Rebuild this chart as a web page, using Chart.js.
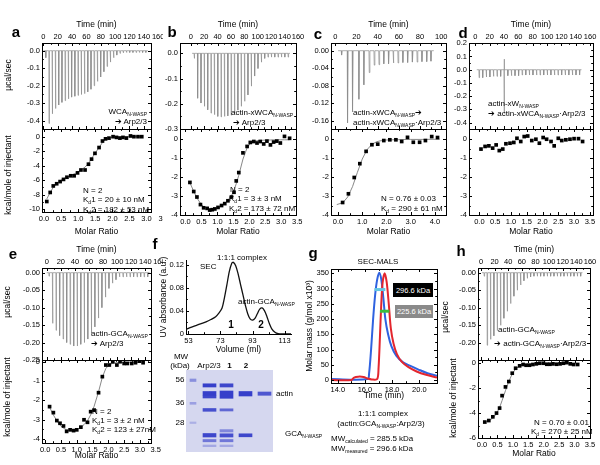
<!DOCTYPE html>
<html>
<head>
<meta charset="utf-8">
<title>ITC / SEC panels</title>
<script src="https://cdn.jsdelivr.net/npm/chart.js@4.4.1/dist/chart.umd.min.js"></script>
<style>
  html, body { margin: 0; padding: 0; background: #fff; }
  #fig { position: relative; width: 600px; height: 465px; overflow: hidden;
         font-family: "Liberation Sans", Arial, sans-serif; color: #000; }
  #fig canvas { position: absolute; }
  .t { position: absolute; white-space: nowrap; line-height: 1; }
  .t sub { font-size: 5px; vertical-align: -2px; line-height: 0; }
  .tag { position: absolute; color: #fff; font-size: 7.5px; display: flex; white-space: nowrap;
         align-items: center; justify-content: center; }
</style>
</head>
<body>
<div id="fig"></div>
<script>
// ---------- a: WCA(N-WASP) -> Arp2/3 ----------
const aInjTime = [3, 7.5, 12, 16.5, 21, 25.5, 30, 34.5, 39, 43.5, 48, 52.5, 57, 61.5, 66, 70.5, 75, 79.5, 84, 88.5, 93, 97.5, 102, 106.5, 111, 115.5, 120, 124.5, 129, 133.5, 138, 142.5];
const aInjPeak = [-0.04, -0.415, -0.36, -0.33, -0.31, -0.295, -0.285, -0.275, -0.265, -0.26, -0.255, -0.25, -0.245, -0.235, -0.22, -0.2, -0.175, -0.15, -0.12, -0.09, -0.065, -0.04, -0.025, -0.015, -0.012, -0.01, -0.01, -0.01, -0.01, -0.01, -0.01, -0.01];
const aRatio = [0.08, 0.18, 0.27, 0.37, 0.47, 0.57, 0.67, 0.78, 0.88, 0.98, 1.08, 1.2, 1.3, 1.39, 1.49, 1.61, 1.71, 1.8, 1.9, 2.02, 2.12, 2.22, 2.31, 2.41, 2.53, 2.63, 2.75, 2.86];
const aHeat = [-8.95, -7.7, -6.8, -6.5, -6.2, -5.9, -5.6, -5.4, -5.4, -5.0, -4.6, -4.6, -3.8, -3.1, -2.3, -1.5, -0.6, -0.3, -0.2, 0.0, -0.1, -0.2, -0.1, -0.2, 0.1, 0.0, 0.0, 0.0];
const aFit = [-8.6, -7.7, -7.0, -6.5, -6.1, -5.8, -5.6, -5.35, -5.15, -4.9, -4.6, -4.2, -3.7, -3.05, -2.3, -1.5, -0.8, -0.35, -0.15, -0.07, -0.04, -0.02, -0.01, 0, 0, 0, 0, 0];

// ---------- b: actin-xWCA -> Arp2/3 ----------
const bInjTime = [5, 10, 15, 20, 25, 30, 35, 40, 45, 50, 55, 60, 65, 70, 75, 80, 85, 90, 95, 100, 105, 110, 115, 120, 125, 130, 135, 140, 145];
const bInjPeak = [-0.02, -0.178, -0.197, -0.21, -0.224, -0.237, -0.243, -0.25, -0.252, -0.25, -0.248, -0.245, -0.237, -0.225, -0.21, -0.19, -0.165, -0.13, -0.09, -0.06, -0.035, -0.02, -0.015, -0.015, -0.015, -0.015, -0.015, -0.015, -0.015];
const bRatio = [0.14, 0.26, 0.36, 0.47, 0.57, 0.68, 0.76, 0.84, 0.92, 1.02, 1.13, 1.23, 1.33, 1.44, 1.52, 1.59, 1.67, 1.8, 1.93, 2.03, 2.14, 2.24, 2.34, 2.45, 2.55, 2.66, 2.76, 2.86, 2.97, 3.1, 3.26];
const bHeat = [-2.28, -2.76, -3.05, -3.45, -3.62, -3.65, -3.74, -3.72, -3.68, -3.6, -3.5, -3.4, -3.25, -3.05, -2.8, -2.2, -1.76, -0.72, -0.38, -0.17, -0.12, -0.2, -0.12, -0.25, -0.1, -0.3, -0.15, -0.1, -0.2, 0.15, 0.05];
const bFit = [-2.3, -2.75, -3.1, -3.38, -3.56, -3.66, -3.7, -3.7, -3.68, -3.62, -3.52, -3.4, -3.22, -2.98, -2.7, -2.35, -1.9, -1.05, -0.45, -0.22, -0.12, -0.08, -0.06, -0.05, -0.04, -0.04, -0.03, -0.03, -0.03, -0.03, -0.03];

// ---------- c: actin-xWCA -> actin-xWCA:Arp2/3 ----------
const cInjTime = [5.7, 11.3, 16, 22, 26.7, 31.8, 36.5, 41, 45.5, 50, 54.5, 59, 63.5, 68, 72.5, 77, 81.5, 86, 90];
const cInjPeak = [-0.01, -0.165, -0.14, -0.111, -0.078, -0.05, -0.033, -0.032, -0.03, -0.03, -0.028, -0.028, -0.027, -0.027, -0.026, -0.026, -0.025, -0.025, -0.024];
const cRatio = [0.19, 0.43, 0.67, 0.9, 1.16, 1.4, 1.64, 1.89, 2.14, 2.39, 2.63, 2.87, 3.11, 3.37, 3.61, 3.87, 4.11];
const cHeat = [-3.34, -2.88, -2.02, -1.29, -0.64, -0.29, -0.26, -0.07, -0.03, -0.03, -0.12, 0.1, -0.16, -0.16, -0.07, 0.14, 0.09];
const cFitX = [-0.05, 0.2, 0.4, 0.6, 0.8, 1.0, 1.2, 1.4, 1.6, 1.8, 2.0, 2.5, 3.0, 3.5, 4.2];
const cFitY = [-3.45, -3.35, -3.05, -2.5, -1.75, -1.05, -0.55, -0.27, -0.13, -0.07, -0.04, -0.02, -0.01, -0.01, 0.0];

// ---------- d: actin-xW -> actin-xWCA:Arp2/3 ----------
const dInjTime = [5, 10, 15, 20, 25, 30, 35, 40, 45, 50, 55, 60, 65, 70, 75, 80, 85, 90, 95, 100, 105, 110, 115, 120, 125, 130, 135, 140, 145];
const dInjPeak = [-0.06, -0.06, -0.055, -0.055, -0.05, -0.05, -0.05, -0.33, -0.045, -0.045, -0.045, -0.045, -0.04, -0.04, -0.04, -0.04, -0.04, -0.04, -0.04, -0.04, -0.04, -0.04, -0.04, -0.04, -0.04, -0.04, -0.04, -0.04, -0.04];
const dInjUp = [0, 0, 0, 0, 0, 0, 0, 0.08, 0, 0, 0, 0, 0, 0, 0, 0, 0, 0, 0, 0, 0, 0, 0, 0, 0, 0, 0, 0, 0];
const dRatio = [0.05, 0.18, 0.3, 0.42, 0.53, 0.63, 0.74, 0.84, 0.97, 1.09, 1.19, 1.31, 1.42, 1.53, 1.66, 1.79, 1.9, 2.02, 2.13, 2.27, 2.37, 2.5, 2.61, 2.74, 2.87, 3.0, 3.14, 3.27];
const dHeat = [-0.52, -0.38, -0.35, -0.47, -0.3, -0.6, -0.52, -0.24, -0.21, -0.17, 0.05, -0.12, 0.14, 0.17, -0.07, 0, -0.21, 0.09, 0, -0.12, -0.35, 0.05, -0.07, -0.03, 0, 0.03, 0.03, -0.12];

// ---------- e: actin-GCA -> Arp2/3 ----------
const eInjTime = [3, 8, 13, 18, 23, 28, 33, 38, 43, 48, 53, 58, 63, 68, 73, 78, 83, 88, 93, 98, 103, 108, 113, 118, 123, 128, 133, 138, 143];
const eInjPeak = [-0.01, -0.145, -0.165, -0.18, -0.19, -0.2, -0.205, -0.21, -0.21, -0.205, -0.2, -0.19, -0.175, -0.155, -0.13, -0.1, -0.07, -0.045, -0.03, -0.02, -0.012, -0.012, -0.012, -0.012, -0.012, -0.012, -0.012, -0.012, -0.012];
const eRatio = [0.14, 0.26, 0.37, 0.47, 0.58, 0.68, 0.79, 0.9, 1.0, 1.13, 1.23, 1.34, 1.44, 1.55, 1.69, 1.81, 1.92, 2.03, 2.14, 2.27, 2.37, 2.5, 2.6, 2.74, 2.86, 2.98, 3.1];
const eHeat = [-2.32, -2.63, -3.04, -3.18, -3.32, -3.6, -3.52, -3.56, -3.52, -3.38, -3.0, -3.13, -2.58, -2.5, -1.6, -0.77, -0.17, -0.17, 0.0, -0.17, 0.0, -0.09, -0.09, -0.09, -0.05, 0.03, -0.05];
const eFit = [-2.35, -2.75, -3.05, -3.28, -3.43, -3.52, -3.55, -3.55, -3.5, -3.4, -3.25, -3.05, -2.75, -2.3, -1.55, -0.8, -0.35, -0.15, -0.08, -0.05, -0.04, -0.03, -0.03, -0.02, -0.02, -0.02, -0.02];

// ---------- h: actin-GCA -> actin-GCA:Arp2/3 ----------
const hInjTime = [4.4, 8.8, 13.7, 18.6, 23.5, 28.4, 33.3, 38.2, 43.1, 48, 52.9, 57.8, 62.7, 67.6, 72.5, 77.4, 82.3, 87.2, 92.1, 97, 101.9, 106.8, 111.7, 116.6, 121.5, 126.4, 131.3, 136.2, 141.1, 146];
const hInjPeak = [-0.01, -0.207, -0.19, -0.18, -0.165, -0.15, -0.13, -0.11, -0.088, -0.067, -0.05, -0.035, -0.023, -0.016, -0.012, -0.01, -0.01, -0.01, -0.01, -0.01, -0.01, -0.01, -0.01, -0.01, -0.01, -0.01, -0.01, -0.01, -0.01, -0.01];
const hRatio = [0.09, 0.22, 0.35, 0.47, 0.57, 0.65, 0.76, 0.87, 0.98, 1.09, 1.22, 1.33, 1.43, 1.54, 1.65, 1.76, 1.87, 1.99, 2.1, 2.2, 2.3, 2.42, 2.53, 2.64, 2.75, 2.86, 2.97, 3.1];
const hHeat = [-4.72, -4.6, -4.3, -4.0, -3.6, -2.6, -1.9, -1.47, -0.8, -0.4, -0.21, -0.1, -0.16, -0.16, -0.1, -0.05, 0, 0, -0.08, -0.08, -0.05, -0.08, -0.05, 0, 0.05, -0.05, -0.1, -0.1];
const hFit = [-4.75, -4.62, -4.4, -4.05, -3.55, -3.0, -2.2, -1.45, -0.85, -0.45, -0.22, -0.12, -0.08, -0.06, -0.05, -0.04, -0.04, -0.03, -0.03, -0.03, -0.03, -0.03, -0.03, -0.03, -0.03, -0.03, -0.03, -0.03];

// ---------- f: SEC trace ----------
const secVol = [51.5, 55, 58, 61, 64, 67, 70, 72, 74, 75.5, 77, 78.5, 80, 81, 82.5, 84, 85.5, 87, 88.5, 90, 91.5, 93, 94.5, 96, 97.5, 99, 100.5, 102, 103.5, 105, 107, 109, 112, 117];
const secAbs = [0.008, 0.012, 0.015, 0.018, 0.021, 0.025, 0.03, 0.036, 0.045, 0.063, 0.085, 0.108, 0.122, 0.124, 0.118, 0.104, 0.086, 0.068, 0.05, 0.035, 0.026, 0.024, 0.027, 0.035, 0.043, 0.045, 0.04, 0.03, 0.018, 0.009, 0.003, 0.0005, 0, 0];

// ---------- f: gel (lane position, band top, band bottom, shade) ----------
const gelLadder = [[7, 9, 11.5, 0.45], [7, 32.3, 34.3, 0.35], [7, 52, 53.5, 0.25]];
const gelLanes = [
  [23.5, 13.8, 17, 0.95], [23.5, 21.5, 25, 0.95], [23.5, 25.3, 28, 0.9], [23.5, 38.5, 41.3, 0.85],
  [23.5, 63.5, 67, 0.9], [23.5, 69.5, 71.8, 0.6], [23.5, 75, 76.7, 0.3],
  [40.5, 13.8, 17, 0.9], [40.5, 21, 28.3, 0.95], [40.5, 38.8, 41, 0.7], [40.5, 59.6, 62, 0.5],
  [40.5, 63.8, 67, 0.85], [40.5, 69.5, 71.8, 0.6], [40.5, 75, 76.7, 0.3],
  [59.5, 21.5, 26, 0.95], [59.5, 63.8, 66.8, 0.9],
  [78.5, 22, 25.3, 0.8]
];

// ---------- g: SEC-MALS ----------
const malsBlueT = [13.5, 16.2, 16.3, 16.45, 16.6, 16.75, 16.9, 17.05, 17.2, 17.35, 17.5, 17.7, 17.95, 18.3, 18.8, 19.3, 19.9, 20.6, 21.3];
const malsBlueM = [3, 3, 20, 100, 200, 280, 330, 352, 330, 270, 200, 150, 110, 80, 58, 47, 35, 22, 14];
const malsRedT = [13.5, 15.0, 15.2, 15.5, 15.9, 16.2, 16.5, 16.9, 17.0, 17.1, 17.2, 17.3, 17.45, 17.6, 17.75, 17.9, 18.1, 18.35, 18.7, 19.2, 19.8, 20.5, 21.3];
const malsRedM = [0, 0, 8, 11, 10, 5, 2, 3, 40, 140, 250, 320, 350, 320, 250, 170, 120, 85, 60, 42, 28, 17, 8];
const mwBlueT = [16.7, 17.5];
const mwBlue = 296.6;
const mwRedT = [17.1, 17.8];
const mwRed = 225.6;

// ---------- tick values ----------
const time160 = [0, 20, 40, 60, 80, 100, 120, 140, 160];
const time100 = [0, 20, 40, 60, 80, 100];
const ratio35 = [0, 0.5, 1, 1.5, 2, 2.5, 3, 3.5];
const ratio40 = [0, 1, 2, 3, 4];
const aRawTicks = [0, -0.1, -0.2, -0.3, -0.4];
const aHeatTicks = [0, -2, -4, -6, -8, -10];
const bRawTicks = [0, -0.1, -0.2, -0.3];
const heat4Ticks = [0, -1, -2, -3, -4];
const cRawTicks = [0, -0.04, -0.08, -0.12, -0.16];
const dRawTicks = [0.2, 0.1, 0, -0.1, -0.2, -0.3, -0.4];
const eRawTicks = [0, -0.05, -0.1, -0.15, -0.2, -0.25];
const hRawTicks = [0, -0.05, -0.1, -0.15, -0.2];
const hHeatTicks = [0, -2, -4, -6];
const secVolTicks = [53, 73, 93, 113];
const secAbsTicks = [0, 0.04, 0.08, 0.12];
const malsTimeTicks = [14, 16, 18, 20];
const malsMassTicks = [0, 50, 100, 150, 200, 250, 300, 350];

// ---------- helpers ----------
Chart.defaults.font.family = '"Liberation Sans", Arial, sans-serif';
Chart.defaults.color = '#000';
const fig = document.getElementById('fig');
const TICK_FONT = 7.5;
const TITLE_FONT = 8.5;

// frame + inward tick marks (Origin style)
const boxTicks = {
  id: 'boxTicks',
  afterDraw(chart, args, o) {
    if (!o.on) return;
    const ctx = chart.ctx, a = chart.chartArea;
    ctx.save();
    ctx.strokeStyle = '#000';
    ctx.lineWidth = 1;
    if (o.frame) ctx.strokeRect(Math.round(a.left) + 0.5, Math.round(a.top) + 0.5,
      Math.round(a.right - a.left), Math.round(a.bottom - a.top));
    ctx.beginPath();
    Object.values(chart.scales).forEach(s => {
      if (!s.options.display) return;
      const hor = s.isHorizontal();
      s.ticks.forEach(t => {
        const len = t.label ? 3 : 1.8;
        const p = Math.round(s.getPixelForValue(t.value)) + 0.5;
        if (hor) {
          if (p < a.left - 1 || p > a.right + 1) return;
          const edges = o.mirror ? [a.top, a.bottom] : [s.position === 'top' ? a.top : a.bottom];
          edges.forEach(e => { ctx.moveTo(p, e); ctx.lineTo(p, e === a.top ? e + len : e - len); });
        } else {
          if (p < a.top - 1 || p > a.bottom + 1) return;
          const edges = o.mirror ? [a.left, a.right] : [a.left];
          edges.forEach(e => { ctx.moveTo(e, p); ctx.lineTo(e === a.left ? e + len : e - len, p); });
        }
      });
    });
    ctx.stroke();
    ctx.restore();
  }
};
Chart.register(boxTicks);

function fmt(v, dec) {
  if (typeof dec === 'function') return dec(v);
  return dec === 0 ? String(Math.round(v)) : v.toFixed(dec);
}

function axis(pos, min, max, major, dec, size, title) {
  const sorted = major.slice().sort((p, q) => p - q);
  const minor = [];
  for (let i = 1; i < sorted.length; i++) minor.push((sorted[i - 1] + sorted[i]) / 2);
  const all = sorted.concat(minor).sort((p, q) => p - q);
  return {
    type: 'linear', position: pos, min: min, max: max,
    afterBuildTicks: s => { s.ticks = all.map(v => ({ value: v })); },
    afterFit: s => {
      if (pos === 'left' || pos === 'right') s.width = size; else s.height = size;
      s.paddingLeft = s.paddingRight = s.paddingTop = s.paddingBottom = 0;
    },
    ticks: {
      autoSkip: false, maxRotation: 0, minRotation: 0, padding: 2,
      font: { size: TICK_FONT }, color: '#000',
      callback: v => sorted.some(m => Math.abs(m - v) < 1e-9) ? fmt(v, dec) : ''
    },
    grid: { display: true, drawOnChartArea: false, drawTicks: false },
    border: { display: true, color: '#000', width: 1 },
    title: title ? { display: true, text: title, padding: 0, font: { size: TITLE_FONT }, color: '#000' } : { display: false }
  };
}

// pad = [left, right, top, bottom] around the plot area
function plot(area, pad, datasets, xs, ys, opt) {
  const cv = document.createElement('canvas');
  const w = area.r - area.l + pad[0] + pad[1];
  const h = area.b - area.t + pad[2] + pad[3];
  cv.width = w; cv.height = h;
  cv.style.left = (area.l - pad[0]) + 'px';
  cv.style.top = (area.t - pad[2]) + 'px';
  cv.style.width = w + 'px';
  cv.style.height = h + 'px';
  if (opt.bg) cv.style.background = opt.bg;
  fig.appendChild(cv);
  const xTop = xs.position === 'top';
  return new Chart(cv, {
    type: opt.type || 'scatter',
    data: { datasets: datasets },
    options: {
      responsive: false, animation: false, devicePixelRatio: 1,
      layout: { padding: { left: 0, right: pad[1], top: xTop ? 0 : pad[2], bottom: xTop ? pad[3] : 0 } },
      plugins: {
        legend: { display: false }, tooltip: { enabled: false },
        boxTicks: { on: opt.ticks !== false, frame: !!opt.frame, mirror: !!opt.mirror }
      },
      scales: { x: xs, y: ys }
    }
  });
}

function xy(xv, yv) { return xv.map((x, i) => ({ x: x, y: yv[i] })); }

// raw ITC power trace: flat baseline with one sharp deflection per injection
function trace(times, peaks, ups) {
  const pts = [{ x: times[0] - 3, y: 0 }];
  times.forEach((t, i) => {
    pts.push({ x: t, y: 0 });
    if (ups && ups[i]) pts.push({ x: t + 0.15, y: ups[i] });
    pts.push({ x: t + 0.3, y: peaks[i] });
    pts.push({ x: t + 0.9, y: 0 });
  });
  pts.push({ x: times[times.length - 1] + 3, y: 0 });
  return pts;
}

function itc(p) {
  plot({ l: p.l, r: p.r, t: p.t, b: p.m }, [30, 12, 23, 6],
    [{ data: trace(p.injT, p.injP, p.injU), showLine: true, borderColor: '#8c8c8c', borderWidth: 0.7, pointRadius: 0 }],
    axis('top', p.time[0], p.time[1], p.time[2], 0, 23, 'Time (min)'),
    axis('left', p.raw[0], p.raw[1], p.raw[2], p.raw[3], 30),
    { frame: true, mirror: true });
  const sets = [{ data: xy(p.ratioX, p.heatY), pointStyle: 'rect', pointRadius: 2.6, backgroundColor: '#000', borderWidth: 0 }];
  if (p.fitY) sets.push({ data: xy(p.fitX, p.fitY), showLine: true, borderColor: '#7a7a7a', borderWidth: 0.9, pointRadius: 0 });
  plot({ l: p.l, r: p.r, t: p.m, b: p.b }, [30, 12, 6, p.pb], sets,
    axis('bottom', p.ratio[0], p.ratio[1], p.ratio[2], 1, p.pb, 'Molar Ratio'),
    axis('left', p.heat[0], p.heat[1], p.heat[2], 0, 30),
    { frame: true, mirror: true });
}

function T(x, y, html, o) {
  o = o || {};
  const d = document.createElement('div');
  d.className = 't';
  d.innerHTML = html;
  d.style.left = x + 'px';
  d.style.top = y + 'px';
  d.style.fontSize = (o.size || 8) + 'px';
  if (o.bold) d.style.fontWeight = 'bold';
  const tx = o.rot ? '-50%' : o.align === 'r' ? '-100%' : o.align === 'c' ? '-50%' : '0';
  d.style.transform = 'translate(' + tx + ',-50%)' + (o.rot ? ' rotate(-90deg)' : '');
  fig.appendChild(d);
}

function tag(x, y, w, h, text, bg) {
  const d = document.createElement('div');
  d.className = 'tag';
  d.textContent = text;
  d.style.left = x + 'px'; d.style.top = y + 'px';
  d.style.width = w + 'px'; d.style.height = h + 'px';
  d.style.background = bg;
  fig.appendChild(d);
}

// ---------- ITC panels ----------
itc({ l: 42, r: 151, t: 43, m: 129, b: 212, pb: 25,
  time: [-2, 150, time160], raw: [-0.447, 0.044, aRawTicks, 1],
  ratio: [-0.06, 3.13, ratio35], heat: [-10.4, 1.06, aHeatTicks],
  injT: aInjTime, injP: aInjPeak, ratioX: aRatio, heatY: aHeat, fitX: aRatio, fitY: aFit });

itc({ l: 180, r: 296, t: 43, m: 129, b: 215, pb: 22,
  time: [-16, 157, time160], raw: [-0.3, 0.041, bRawTicks, 1],
  ratio: [-0.17, 3.46, ratio35], heat: [-4, 0.54, heat4Ticks],
  injT: bInjTime, injP: bInjPeak, ratioX: bRatio, heatY: bHeat, fitX: bRatio, fitY: bFit });

itc({ l: 331, r: 446, t: 43, m: 129, b: 215, pb: 22,
  time: [-4, 104.5, time100], raw: [-0.179, 0.0176, cRawTicks, 2],
  ratio: [-0.29, 4.46, ratio40], heat: [-4, 0.54, heat4Ticks],
  injT: cInjTime, injP: cInjPeak, ratioX: cRatio, heatY: cHeat, fitX: cFitX, fitY: cFitY });

itc({ l: 469, r: 593, t: 43, m: 129, b: 215, pb: 22,
  time: [-8.8, 164, time160], raw: [-0.448, 0.202, dRawTicks, 1],
  ratio: [-0.33, 3.6, ratio35], heat: [-4, 0.54, heat4Ticks],
  injT: dInjTime, injP: dInjPeak, injU: dInjUp, ratioX: dRatio, heatY: dHeat });

itc({ l: 42, r: 151, t: 268, m: 360, b: 443, pb: 18,
  time: [-6.7, 148, time160], raw: [-0.25, 0.0134, eRawTicks, 2],
  ratio: [-0.1, 3.35, ratio35], heat: [-4.2, 0.09, heat4Ticks],
  injT: eInjTime, injP: eInjPeak, ratioX: eRatio, heatY: eHeat, fitX: eRatio, fitY: eFit });

itc({ l: 478, r: 590, t: 268, m: 360, b: 438, pb: 21,
  time: [-4.4, 160, time160], raw: [-0.249, 0.0134, hRawTicks, 2],
  ratio: [-0.13, 3.5, ratio35], heat: [-6, 0.26, hHeatTicks],
  injT: hInjTime, injP: hInjPeak, ratioX: hRatio, heatY: hHeat, fitX: hRatio, fitY: hFit });

// ---------- f: SEC ----------
plot({ l: 186, r: 291, t: 260, b: 334 }, [27, 8, 12, 21],
  [{ data: xy(secVol, secAbs), showLine: true, borderColor: '#111', borderWidth: 1.3, pointRadius: 0, tension: 0.3 }],
  axis('bottom', 51.5, 117, secVolTicks, 0, 21, 'Volume (ml)'),
  axis('left', 0, 0.128, secAbsTicks, v => v === 0 ? '0' : v.toFixed(2), 27, 'UV absorbance (a.u.)'),
  { frame: false, mirror: false });

// ---------- f: gel ----------
const bandColor = s => 'rgba(45,55,200,' + s + ')';
plot({ l: 186, r: 273, t: 370, b: 452 }, [0, 0, 0, 0],
  [
    { type: 'bar', data: gelLadder.map(b => ({ x: b[0], y: [b[1], b[2]] })), backgroundColor: gelLadder.map(b => bandColor(b[3])), barThickness: 6, grouped: false },
    { type: 'bar', data: gelLanes.map(b => ({ x: b[0], y: [b[1], b[2]] })), backgroundColor: gelLanes.map(b => bandColor(b[3])), barThickness: 13, grouped: false }
  ],
  { type: 'linear', display: false, min: 0, max: 87, offset: false },
  { type: 'linear', display: false, min: 0, max: 82, reverse: true },
  { type: 'bar', ticks: false, bg: '#d5d7ef' });

// ---------- g: SEC-MALS ----------
plot({ l: 331, r: 437, t: 269, b: 383 }, [26, 8, 6, 18],
  [
    { data: mwBlueT.map(t => ({ x: t, y: mwBlue })), showLine: true, borderColor: '#63c6e2', borderWidth: 3, pointRadius: 0 },
    { data: mwRedT.map(t => ({ x: t, y: mwRed })), showLine: true, borderColor: '#3dbb3d', borderWidth: 3, pointRadius: 0 },
    { data: xy(malsRedT, malsRedM), showLine: true, borderColor: '#e3262e', borderWidth: 2, pointRadius: 0, tension: 0.3 },
    { data: xy(malsBlueT, malsBlueM), showLine: true, borderColor: '#2f62e0', borderWidth: 2, pointRadius: 0, tension: 0.3 }
  ],
  axis('bottom', 13.5, 21.3, malsTimeTicks, 1, 18, 'Time (min)'),
  axis('left', -9.8, 364, malsMassTicks, 0, 26, 'Molar mass (g/mol x10³)'),
  { frame: true, mirror: true });

// ---------- text ----------
[['a', 16, 31], ['b', 172, 31], ['c', 318, 33], ['d', 463, 32],
 ['e', 13, 253], ['f', 155, 243], ['g', 313, 252], ['h', 461, 250]]
  .forEach(l => T(l[1], l[2], l[0], { size: 15, bold: true, align: 'c' }));

T(8, 75, 'µcal/sec', { rot: true, size: 8.5 });
T(8, 175, 'kcal/mole of injectant', { rot: true, size: 8.5 });
T(7, 302, 'µcal/sec', { rot: true, size: 8.5 });
T(7, 397, 'kcal/mole of injectant', { rot: true, size: 8.5 });
T(445, 317, 'µcal/sec', { rot: true, size: 8.5 });
T(453, 398, 'kcal/mole of injectant', { rot: true, size: 8.5 });

T(147, 112, 'WCA<sub>N-WASP</sub>', { align: 'r' });
T(147, 122, '➔ Arp2/3', { align: 'r' });
T(83, 191, 'N = 2');
T(83, 200, 'K<sub>d</sub>1 = 20 ± 10 nM');
T(83, 209.5, 'K<sub>d</sub>2 = 182 ± 53 nM');

T(231, 113, 'actin-xWCA<sub>N-WASP</sub>');
T(233, 122.5, '➔ Arp2/3');
T(230, 190, 'N = 2');
T(229, 199, 'K<sub>d</sub>1 = 3 ± 3 nM');
T(229, 208.5, 'K<sub>d</sub>2 = 173 ± 72 nM');

T(353, 113, 'actin-xWCA<sub>N-WASP</sub>➔');
T(353, 122.5, 'actin-xWCA<sub>N-WASP</sub>·Arp2/3');
T(381, 199, 'N = 0.76 ± 0.03');
T(381, 208.5, 'K<sub>d</sub> = 290 ± 61 nM');

T(488, 104, 'actin-xW<sub>N-WASP</sub>');
T(488, 113.5, '➔ actin-xWCA<sub>N-WASP</sub>·Arp2/3');

T(91, 334, 'actin-GCA<sub>N-WASP</sub>');
T(91, 343.5, '➔ Arp2/3');
T(92, 411.5, 'N = 2');
T(92, 421, 'K<sub>d</sub>1 = 3 ± 2 nM');
T(92, 430, 'K<sub>d</sub>2 = 123 ± 27nM');

T(498, 330, 'actin-GCA<sub>N-WASP</sub>');
T(494, 343.5, '➔ actin-GCA<sub>N-WASP</sub>·Arp2/3');
T(534, 423, 'N = 0.70 ± 0.01');
T(531, 431.5, 'K<sub>d</sub> = 270 ± 25 nM');

T(200, 267, 'SEC');
T(242, 258, '1:1:1 complex', { align: 'c' });
T(238, 302, 'actin-GCA<sub>N-WASP</sub>');
T(231, 325, '1', { align: 'c', bold: true, size: 10 });
T(261, 325, '2', { align: 'c', bold: true, size: 10 });

T(181, 357, 'MW', { align: 'c' });
T(180, 365.5, '(kDa)', { align: 'c' });
T(209, 365.5, 'Arp2/3', { align: 'c' });
T(229.5, 365.5, '1', { align: 'c', bold: true });
T(246, 365.5, '2', { align: 'c', bold: true });
T(180, 380, '56', { align: 'c' });
T(180, 403, '36', { align: 'c' });
T(180, 423, '28', { align: 'c' });
T(276, 393.5, 'actin');
T(285, 434, 'GCA<sub>N-WASP</sub>');

T(378, 262, 'SEC-MALS', { align: 'c' });
tag(393, 283, 40, 14, '296.6 kDa', '#000');
tag(395, 304.5, 38, 13, '225.6 kDa', '#8a8a8a');
T(383, 413.5, '1:1:1 complex', { align: 'c' });
T(381, 423.5, '(actin:GCA<sub>N-WASP</sub>:Arp2/3)', { align: 'c' });
T(331, 438.5, 'MW<sub>calculated</sub> = 285.5 kDa');
T(331, 448.5, 'MW<sub>measured</sub> = 296.6 kDa');
</script>
</body>
</html>
